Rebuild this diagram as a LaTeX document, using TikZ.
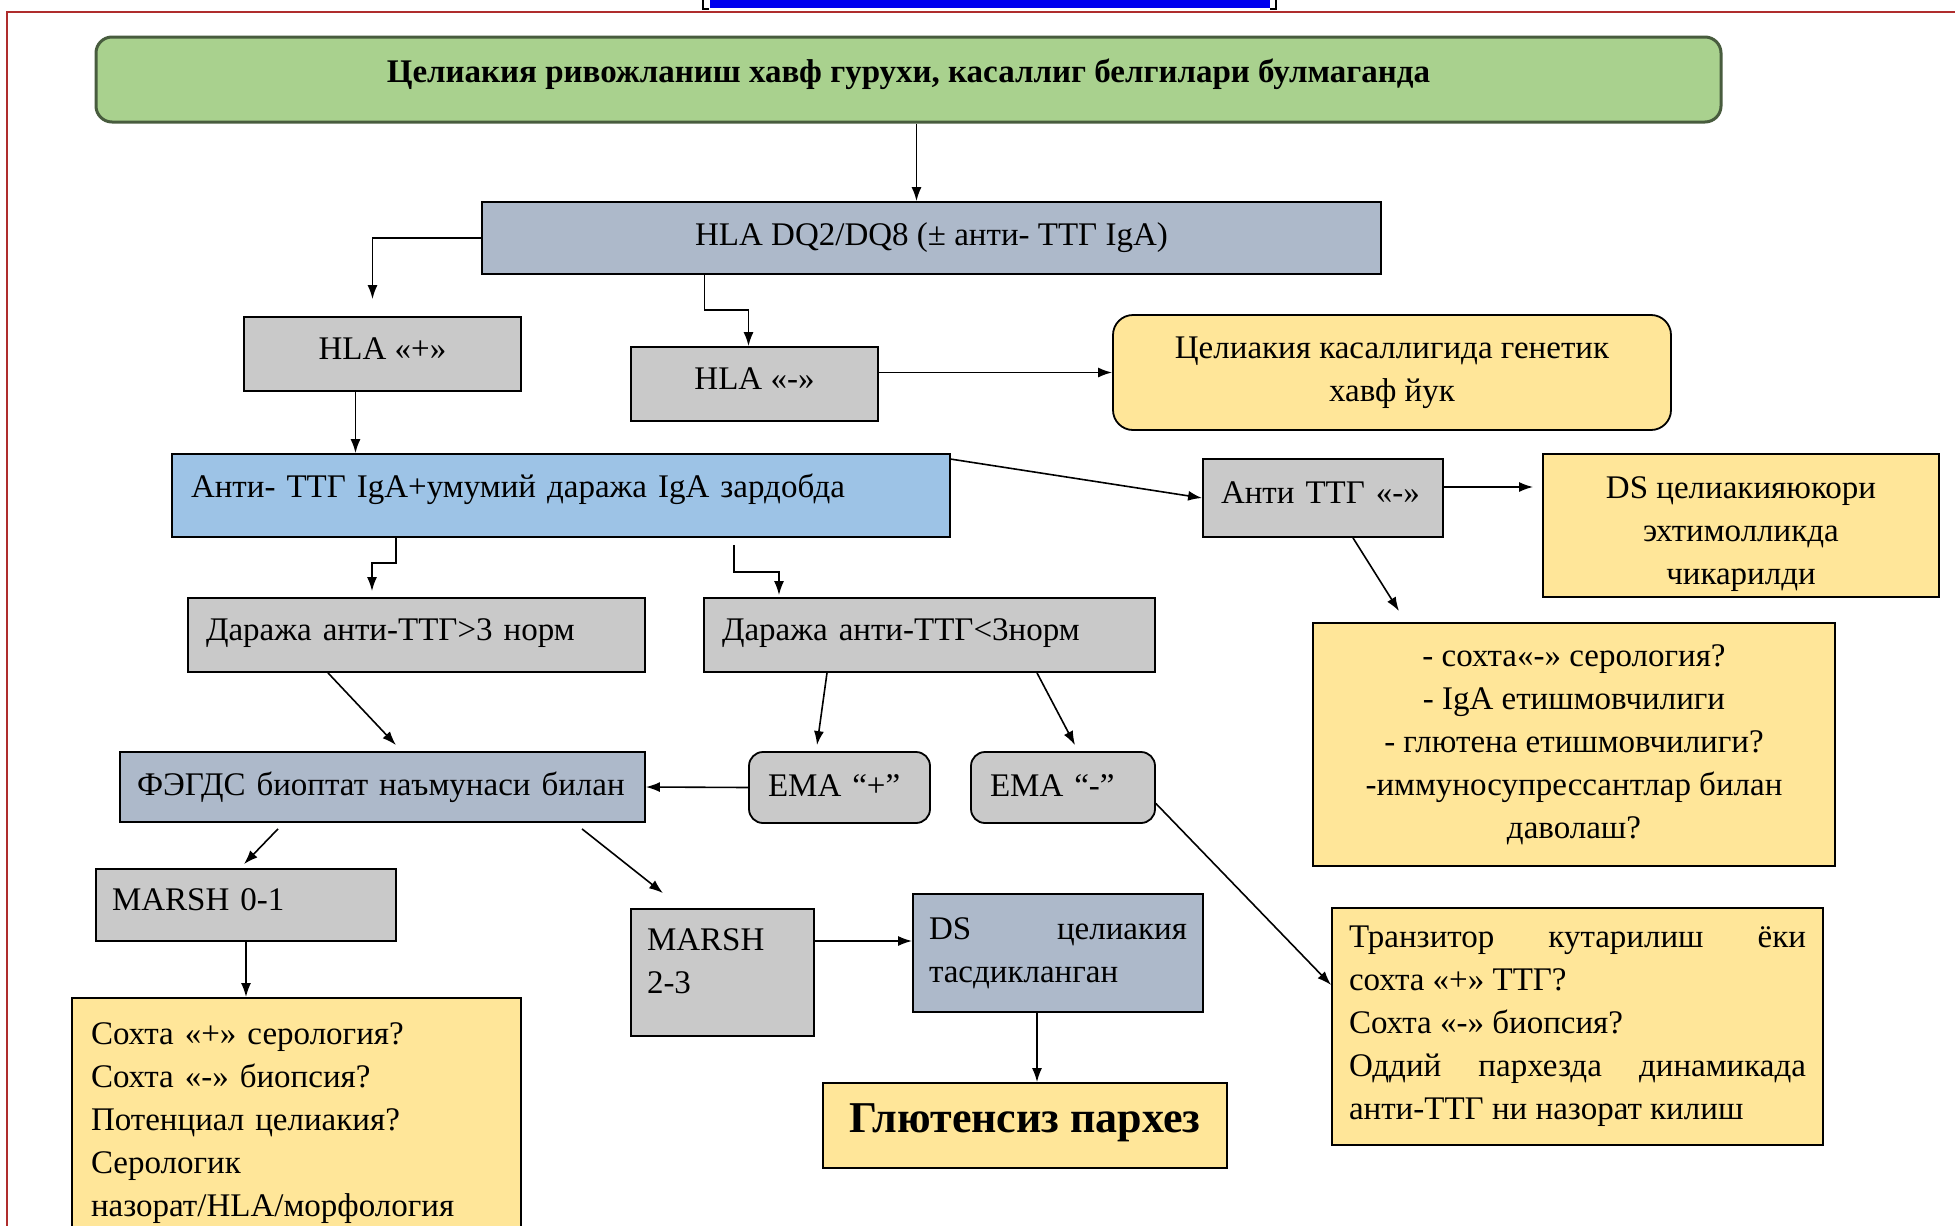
\documentclass[tikz,border=0pt]{standalone}
\usepackage{fontspec}
\setmainfont{Liberation Serif}
\usetikzlibrary{arrows.meta}

\definecolor{titlegreen}{RGB}{169,209,142}
\definecolor{titleedge}{RGB}{72,92,62}
\definecolor{slateblue}{RGB}{173,185,202}
\definecolor{boxgray}{RGB}{201,201,201}
\definecolor{skyblue}{RGB}{157,195,230}
\definecolor{paleyellow}{RGB}{255,230,153}
\definecolor{pagered}{RGB}{175,45,45}
\definecolor{linkblue}{RGB}{0,0,238}

\hyphenpenalty=10000
\exhyphenpenalty=10000

\tikzset{
  box/.style={draw=black, line width=1.8pt, inner sep=0pt,
    font=\fontsize{33}{43}\selectfont},
  arr/.style={-{Latex[length=14pt,width=10pt]}, line width=1.6pt},
}

\begin{document}
\begin{tikzpicture}[x=1pt, y=-1pt]
\useasboundingbox (0,0) rectangle (1955,1226);
\clip (0,0) rectangle (1955,1226);
% page frame and the cut link
\draw[pagered, line width=2pt] (7,1226) -- (7,12) -- (1955,12);
\fill[linkblue] (710,0) rectangle (1270,8);
\draw[line width=1.5pt] (703,0) -- (703,9) -- (709,9);
\draw[line width=1.5pt] (1276,0) -- (1276,9) -- (1270,9);

% boxes
\node[box, fill=titlegreen, draw=titleedge, line width=3pt, rounded corners=16pt,
  minimum width=1625pt, minimum height=85pt, text height=23pt, text depth=17pt,
  font=\fontsize{33}{43}\selectfont\bfseries] (title) at (908.5,79.5)
  {Целиакия ривожланиш хавф гурухи, касаллиг белгилари булмаганда};
\node[box, fill=slateblue, minimum width=899pt, minimum height=72pt] (hladq) at (931.5,238)
  {HLA DQ2/DQ8 (± анти- ТТГ IgA)};
\node[box, fill=boxgray, minimum width=277pt, minimum height=74pt,
  text height=23pt, text depth=13pt] (hlap) at (382.5,354) {HLA «+»};
\node[box, fill=boxgray, minimum width=247pt, minimum height=74pt,
  text height=23pt, text depth=13pt] (hlam) at (754.5,384) {HLA «-»};
\node[box, fill=paleyellow, rounded corners=20pt, align=center,
  minimum width=558pt, minimum height=115pt] (genrisk) at (1392,372.5)
  {Целиакия касаллигида генетик\\хавф йук};
\node[box, fill=skyblue, inner xsep=19pt, text width=740pt, align=left,
  minimum height=83pt, text height=23pt, text depth=19pt] (antittg) at (561,495.5)
  {Анти- ТТГ IgA+умумий даража IgA зардобда};
\node[box, fill=boxgray, inner xsep=18pt, text width=204pt, align=left,
  minimum height=78pt, text height=23pt, text depth=13pt] (antineg) at (1323,498) {Анти ТТГ «-»};
\node[box, fill=paleyellow, align=center, minimum width=396pt, minimum height=143pt,
  text height=124pt, text depth=7pt] (dsexcl) at (1741,525.5) {DS целиакияюкори\\эхтимолликда\\чикарилди};
\node[box, fill=paleyellow, align=center, minimum width=522pt, minimum height=243pt] (sohta)
  at (1574,744.5) {- сохта«-» серология?\\- IgA етишмовчилиги\\- глютена етишмовчилиги?\\-иммуносупрессантлар билан\\даволаш?};
\node[box, fill=boxgray, inner xsep=18pt, text width=421pt, align=left,
  minimum height=74pt, text height=23pt, text depth=12pt] (dgt) at (416.5,635) {Даража анти-ТТГ>3 норм};
\node[box, fill=boxgray, inner xsep=18pt, text width=415pt, align=left,
  minimum height=74pt, text height=23pt, text depth=12pt] (dlt) at (929.5,635) {Даража анти-ТТГ<3норм};
\node[box, fill=slateblue, inner xsep=17pt, text width=491pt, align=left,
  minimum height=70pt] (fegds) at (382.5,787) {ФЭГДС биоптат наъмунаси билан};
\node[box, fill=boxgray, rounded corners=14pt, inner xsep=19pt, text width=143pt, align=left,
  minimum height=71pt, text height=23pt, text depth=6pt] (emap) at (839.5,787.5) {EMA “+”};
\node[box, fill=boxgray, rounded corners=14pt, inner xsep=19pt, text width=146pt, align=left,
  minimum height=71pt, text height=23pt, text depth=6pt] (eman) at (1063,787.5) {EMA “-”};
\node[box, fill=boxgray, inner xsep=16pt, text width=268pt, align=left,
  minimum height=72pt, text height=23pt, text depth=13pt] (marsh01) at (246,905) {MARSH 0-1};
\node[box, fill=boxgray, inner xsep=16pt, text width=151pt, align=left,
  minimum height=127pt, text depth=65pt] (marsh23) at (722.5,972.5) {MARSH\\2-3};
\node[box, fill=slateblue, inner xsep=16pt, text width=258pt, align=justify,
  minimum height=118pt] (dsconf) at (1058,953) {DS целиакия\linebreak тасдикланган};
\node[box, fill=paleyellow, minimum width=404pt, minimum height=85pt,
  text height=30pt, text depth=17pt,
  font=\fontsize{44}{50}\selectfont\bfseries] (glut) at (1025,1125.5) {Глютенсиз пархез};
\node[box, fill=paleyellow, inner xsep=17pt, text width=457pt, align=justify,
  minimum height=237pt] (trans) at (1577.5,1026.5)
  {Транзитор кутарилиш ёки\linebreak сохта «+» ТТГ?\newline Сохта «-» биопсия?\newline
   Оддий пархезда динамикада\linebreak анти-ТТГ ни назорат килиш};
\node[box, fill=paleyellow, anchor=north, inner xsep=19pt, inner ysep=18pt, text width=411pt,
  align=left, minimum height=250pt] (potential) at (296.5,997)
  {Сохта «+» серология?\\Сохта «-» биопсия?\\Потенциал целиакия?\\Серологик\\назорат/HLA/морфология};

% connectors
\draw[arr] ([xshift=-15pt]hladq.north |- title.south) -- ([xshift=-15pt]hladq.north);
\draw[arr] (hladq.west) -| ([xshift=-10pt,yshift=17pt]hlap.north);
\draw[arr] ([xshift=-227pt]hladq.south) -- ++(0,35) -| ([xshift=-6pt]hlam.north);
\draw[arr] (hlam.east |- genrisk.west) -- (genrisk.west);
\draw[arr] ([xshift=-27pt]hlap.south) -- ([xshift=-27pt]hlap.south |- antittg.north);
\draw[arr] ([yshift=-6pt]antittg.north east) -- (antineg.west);
\draw[arr] ([yshift=11pt]antineg.east) -- ([yshift=11pt,xshift=-9pt]antineg.east -| dsexcl.west);
\draw[arr] ([xshift=30pt]antineg.south) -- ([xshift=-175pt,yshift=11pt]sohta.north);
\draw[arr] ([xshift=-165pt]antittg.south) -- ++(0,25) -| ([xshift=-44.5pt,yshift=6pt]dgt.north);
\draw[arr] ([xshift=173pt,yshift=-7pt]antittg.south) -- ++(0,27) -| ([xshift=-150.5pt,yshift=2pt]dlt.north);
\draw[arr] ([xshift=-88.5pt]dgt.south) -- ([xshift=13.5pt,yshift=6pt]fegds.north);
\draw[arr] ([xshift=-102.5pt]dlt.south) -- ([xshift=-22.5pt,yshift=6pt]emap.north);
\draw[arr] ([xshift=107.5pt]dlt.south) -- ([xshift=12pt,yshift=6pt]eman.north);
\draw[arr] (emap.west) -- (fegds.east);
\draw[arr] ([xshift=-104.5pt,yshift=-6pt]fegds.south) -- ([xshift=-2pt,yshift=4pt]marsh01.north);
\draw[arr] ([xshift=199.5pt,yshift=-6pt]fegds.south) -- ([xshift=-59.5pt,yshift=15pt]marsh23.north);
\draw[arr] ([yshift=12pt]dsconf.west -| marsh23.east) -- ([yshift=12pt]dsconf.west);
\draw[arr] ([xshift=-21pt]dsconf.south) -- ([xshift=-21pt]dsconf.south |- glut.north);
\draw[arr] ([yshift=-16pt]eman.east) -- ([yshift=41.5pt]trans.west);
\draw[arr] (marsh01.south) -- (marsh01.south |- potential.north);
\end{tikzpicture}
\end{document}
